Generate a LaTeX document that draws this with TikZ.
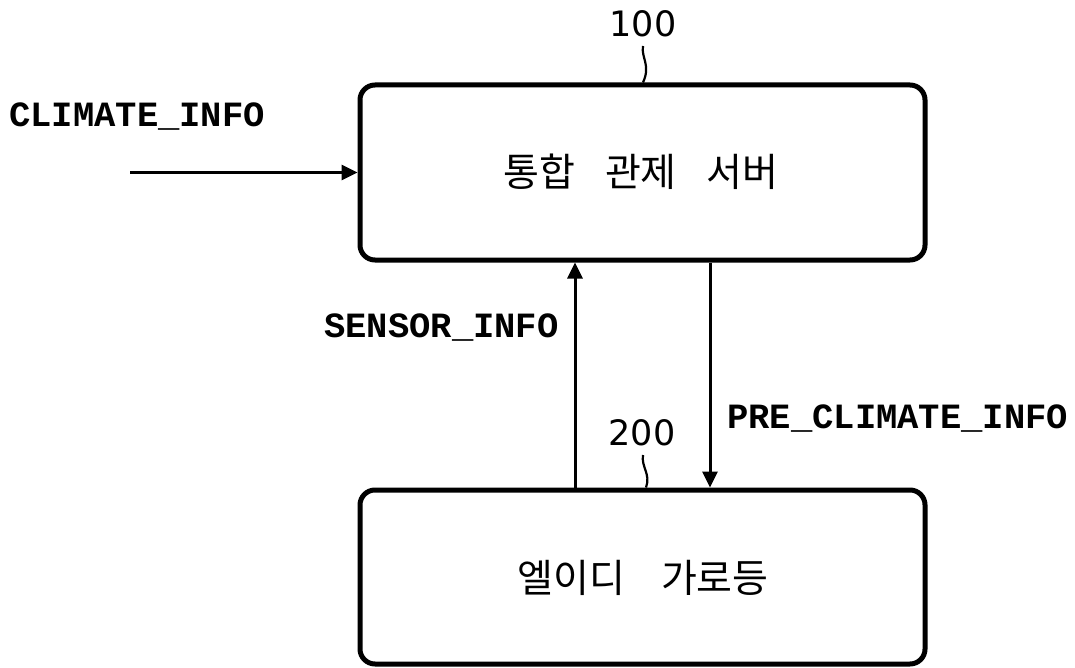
\documentclass[tikz,border=0pt]{standalone}
\usepackage{fontspec}
\usetikzlibrary{arrows.meta}
\newfontfamily\monob{Liberation Mono}[BoldFont={* Bold}]
\newfontfamily\krfont{Noto Sans CJK KR}
\newfontfamily\numfont{DejaVu Sans}
\begin{document}
\begin{tikzpicture}[x=1pt,y=-1pt,
  box/.style={draw, line width=5pt, rounded corners=15pt, minimum width=565pt, inner sep=0pt},
  arr/.style={line width=3pt, -{Triangle[length=16pt,width=15pt]}},
  lab/.style={font=\monob\bfseries\fontsize{35.5}{35.5}\selectfont, inner sep=0pt, anchor=base west},
  num/.style={font=\numfont\fontsize{35}{35}\selectfont, inner sep=0pt, anchor=base},
  kr/.style={font=\krfont\fontsize{39}{39}\selectfont, inner sep=0pt},
  lead/.style={line width=2.2pt}]
\useasboundingbox (0,0) rectangle (1075,668);
\node[box, minimum height=175pt] (srv) at (642.5,172.5) {};
\node[box, minimum height=174pt] (led) at (642.5,577) {};
\node[kr] (srvt) at (641,172) {통합\hspace{30pt}관제\hspace{30pt}서버};
\node[kr] (ledt) at (643,578) {엘이디\hspace{36pt}가로등};
\node[num] (n100) at (643,37) {100};
\node[num] (n200) at (642,445) {200};
\coordinate (l1a) at (643,46);
\coordinate (l2a) at (643,455);
\draw[lead] (l1a) .. controls (641,58) and (651,65) .. (l1a |- srv.north);
\draw[lead] (l2a) .. controls (641,467) and (651,474) .. ([xshift=3pt]l2a |- led.north);
\node[lab] (clim) at (9,127) {CLIMATE\_INFO};
\node[lab] (sens) at (324,337) {SENSOR\_INFO};
\node[lab] (pre) at (727,428) {PRE\_CLIMATE\_INFO};
\coordinate (in) at (130,172.5);
\coordinate (upx) at (575,0);
\coordinate (dnx) at (710,0);
\draw[arr] (in) -- (in -| srv.west);
\draw[arr] (led.north -| upx) -- (srv.south -| upx);
\draw[arr] (srv.south -| dnx) -- (led.north -| dnx);
\end{tikzpicture}
\end{document}
